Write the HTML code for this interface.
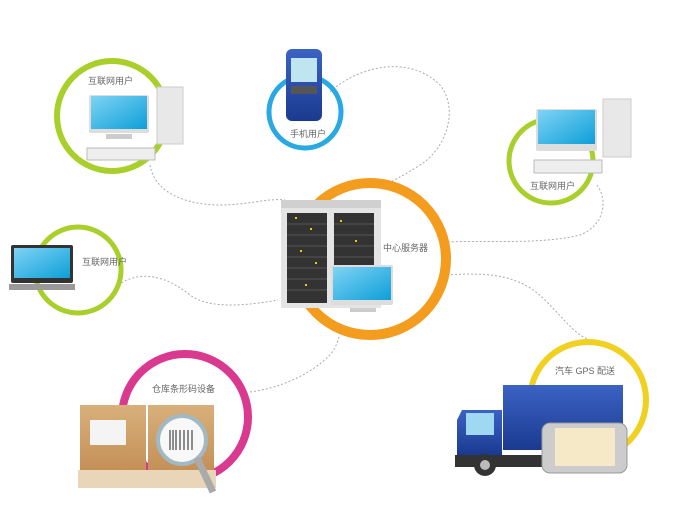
<!DOCTYPE html>
<html><head><meta charset="utf-8"><style>
html,body{margin:0;padding:0;background:#fff;}
svg{display:block;}
text{font-family:"Liberation Sans","Noto Sans CJK SC",sans-serif;font-size:9px;fill:#666;}
</style></head><body>
<svg width="677" height="524" viewBox="0 0 677 524" xmlns="http://www.w3.org/2000/svg">
<defs>
<linearGradient id="scr" x1="0" y1="0" x2="1" y2="1"><stop offset="0" stop-color="#7fd3f5"/><stop offset="1" stop-color="#0d9fd8"/></linearGradient>
<linearGradient id="blu" x1="0" y1="0" x2="0" y2="1"><stop offset="0" stop-color="#3b63c4"/><stop offset="1" stop-color="#1a3a8f"/></linearGradient>
<linearGradient id="box" x1="0" y1="0" x2="0" y2="1"><stop offset="0" stop-color="#d9b07a"/><stop offset="1" stop-color="#c49058"/></linearGradient>
</defs>
<g fill="none" stroke="#aaa" stroke-width="1" stroke-dasharray="2,2">
<path d="M150 165 C155 195 190 205 220 205 C250 205 265 198 285 200"/>
<path d="M330 92 C360 65 410 55 440 85 C460 110 445 150 420 165 C405 175 390 182 380 188"/>
<path d="M597 185 C608 200 605 225 580 235 C540 245 480 240 448 242"/>
<path d="M447 275 C490 272 520 275 545 300 C565 320 575 335 590 340"/>
<path d="M118 285 C140 270 165 275 190 295 C210 310 250 305 278 300"/>
<path d="M250 392 C280 388 310 375 330 355 C338 345 338 338 340 335"/>
</g>
<circle cx="370" cy="259" r="76" fill="none" stroke="#f39c1e" stroke-width="10"/>
<circle cx="112" cy="116" r="55" fill="none" stroke="#a8cf2a" stroke-width="6"/>
<circle cx="305" cy="112" r="36" fill="none" stroke="#29a9e1" stroke-width="5"/>
<circle cx="551" cy="161" r="42" fill="none" stroke="#a8cf2a" stroke-width="5"/>
<circle cx="78" cy="270" r="43" fill="none" stroke="#a8cf2a" stroke-width="5"/>
<circle cx="185" cy="417" r="63" fill="none" stroke="#d93a8f" stroke-width="8"/>
<circle cx="588" cy="400" r="58" fill="none" stroke="#f0d020" stroke-width="6"/>

<!-- top-left PC -->
<rect x="157" y="87" width="26" height="57" fill="#e8e8e8" stroke="#ccc"/>
<rect x="89" y="95" width="60" height="38" rx="2" fill="#ddd"/>
<rect x="91" y="96" width="56" height="33" fill="url(#scr)"/>
<rect x="106" y="134" width="26" height="5" fill="#ccc"/>
<rect x="87" y="148" width="68" height="12" fill="#eee" stroke="#bbb"/>
<text x="88" y="84">互联网用户</text>
<!-- phone -->
<rect x="286" y="49" width="36" height="72" rx="6" fill="url(#blu)"/>
<rect x="291" y="58" width="26" height="24" fill="#bfe4f2"/>
<rect x="291" y="86" width="26" height="8" fill="#555"/>
<text x="290" y="137">手机用户</text>
<!-- right PC -->
<rect x="603" y="99" width="28" height="58" fill="#e8e8e8" stroke="#ccc"/>
<rect x="536" y="109" width="61" height="42" rx="2" fill="#ddd"/>
<rect x="538" y="110" width="57" height="34" fill="url(#scr)"/>
<rect x="534" y="160" width="68" height="13" fill="#eee" stroke="#bbb"/>
<text x="530" y="189">互联网用户</text>
<!-- laptop -->
<rect x="11" y="245" width="62" height="38" rx="2" fill="#333"/>
<rect x="14" y="248" width="56" height="30" fill="url(#scr)"/>
<rect x="9" y="284" width="66" height="6" fill="#999"/>
<text x="82" y="265">互联网用户</text>
<!-- server -->
<rect x="281" y="200" width="100" height="108" fill="#e4e4e4"/>
<rect x="281" y="200" width="100" height="8" fill="#d0d0d0"/>
<g fill="#333">
<rect x="287" y="213" width="40" height="90"/><rect x="334" y="213" width="40" height="60"/>
</g>
<g stroke="#555" stroke-width="1">
<path d="M287 224h40M287 235h40M287 246h40M287 257h40M287 268h40M287 279h40M287 290h40M334 224h40M334 235h40M334 246h40M334 257h40"/>
</g>
<g fill="#e6d000"><rect x="295" y="217" width="2" height="2"/><rect x="310" y="228" width="2" height="2"/><rect x="300" y="250" width="2" height="2"/><rect x="315" y="262" width="2" height="2"/><rect x="340" y="220" width="2" height="2"/><rect x="355" y="240" width="2" height="2"/><rect x="305" y="284" width="2" height="2"/></g>
<rect x="331" y="265" width="62" height="40" rx="2" fill="#ddd"/>
<rect x="333" y="267" width="58" height="33" fill="url(#scr)"/>
<rect x="350" y="308" width="26" height="4" fill="#ccc"/>
<text x="383" y="251">中心服务器</text>
<!-- boxes -->
<rect x="80" y="405" width="66" height="65" fill="url(#box)"/>
<rect x="148" y="405" width="66" height="65" fill="url(#box)"/>
<rect x="90" y="420" width="36" height="25" fill="#f4f4f4"/>
<rect x="78" y="470" width="138" height="18" fill="#e9d6b8"/>
<circle cx="182" cy="440" r="24" fill="#f8f8f8" stroke="#9fb9c6" stroke-width="4"/>
<g stroke="#222"><path d="M170 430v20M173 430v20M176 430v20M180 430v20M184 430v20M188 430v20M192 430v20"/></g>
<path d="M197 458 L213 492" stroke="#aaa" stroke-width="7"/>
<text x="152" y="392">仓库条形码设备</text>
<!-- truck -->
<rect x="503" y="385" width="120" height="65" fill="url(#blu)"/>
<path d="M462 410 h40 v45 h-45 v-35 z" fill="url(#blu)"/>
<rect x="466" y="413" width="28" height="22" fill="#9fd8f0"/>
<rect x="455" y="455" width="90" height="12" fill="#333"/>
<circle cx="485" cy="465" r="11" fill="#333"/><circle cx="485" cy="465" r="5" fill="#bbb"/>
<rect x="542" y="423" width="85" height="50" rx="8" fill="#ccc" stroke="#999"/>
<rect x="555" y="428" width="60" height="38" fill="#f5e9c8"/>
<text x="555" y="374">汽车 GPS 配送</text>
</svg>
</body></html>
